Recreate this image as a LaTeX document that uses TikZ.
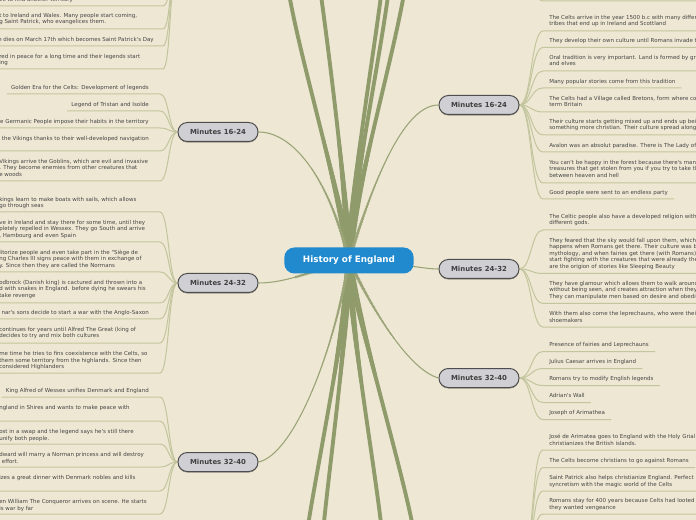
\documentclass[tikz,border=0pt]{standalone}
\usepackage{fontspec}
\newfontfamily\dvs{DejaVu Sans}
\usetikzlibrary{shadows,decorations.markings}
\pgfdeclarelayer{back}
\pgfdeclarelayer{lines}
\pgfsetlayers{back,lines,main}
\definecolor{bgc}{HTML}{EEE7D3}
\definecolor{heavyc}{HTML}{8F9B6B}
\definecolor{branchc}{HTML}{9AA477}
\definecolor{leafc}{HTML}{C2C59D}
\definecolor{txtc}{HTML}{454545}
\definecolor{bnfill}{HTML}{D0D0D4}
\definecolor{bnline}{HTML}{4D4D4D}
\definecolor{rootc}{HTML}{218ACE}
\begin{document}
\begin{tikzpicture}[x=0.75pt,y=-0.75pt,
 leaf/.style={font=\dvs\fontsize{4.125pt}{4.875pt}\selectfont, text=txtc, align=left, inner ysep=0pt},
 leafR/.style={leaf, anchor=base west, inner xsep=4.5pt},
 leafL/.style={leaf, anchor=base west, inner xsep=3pt},
 leafE/.style={leaf, anchor=base east, inner xsep=3pt},
 branchbox/.style={draw=bnline, line width=0.75pt, fill=bnfill, rounded corners=7pt,
   minimum width=60pt, minimum height=14.25pt, inner sep=0pt,
   font=\dvs\bfseries\fontsize{5.2pt}{6pt}\selectfont, text=black!75,
   drop shadow={shadow xshift=0pt, shadow yshift=-0.8pt, opacity=0.35, fill=black}},
 rootbox/.style={fill=rootc, rounded corners=7.5pt, minimum width=97pt, minimum height=19.5pt,
   inner sep=0pt, font=\dvs\bfseries\fontsize{6.6pt}{8pt}\selectfont, text=white},
 heavyline/.style={draw=heavyc, line width=2.9pt, line cap=round,
   postaction={decorate, decoration={markings,
     mark=between positions 0 and 0.45 step 1.5pt with {%
       \pgfmathsetmacro\rr{max(1.45,2.9-0.016*\pgfkeysvalueof{/pgf/decoration/mark info/distance from start})}%
       \fill[heavyc] (0,0) circle (\rr pt);}}}},
 branchline/.style={draw=branchc, line width=0.8pt,
   postaction={decorate, decoration={markings,
     mark=between positions 0 and 0.6 step 1.2pt with {%
       \pgfmathsetmacro\rr{max(0.4,1.6-0.014*\pgfkeysvalueof{/pgf/decoration/mark info/distance from start})}%
       \fill[branchc] (0,0) circle (\rr pt);}}}},
 leafline/.style={draw=leafc, line width=0.75pt},
]
\useasboundingbox (0,0) rectangle (696,520);
\begin{pgfonlayer}{back}
\fill[bgc] (0,0) rectangle (696,520);
\end{pgfonlayer}

% root and branches
\node[rootbox] (root) at (349,260.5) {History of England};
\node[branchbox] (bL1) at (218,132) {Minutes 16-24};
\node[branchbox] (bL2) at (218,283) {Minutes 24-32};
\node[branchbox] (bL3) at (218,462) {Minutes 32-40};
\node[branchbox] (bR1) at (479,105) {Minutes 16-24};
\node[branchbox] (bR2) at (479,269) {Minutes 24-32};
\node[branchbox] (bR3) at (479,378) {Minutes 32-40};

% off-picture branches
\coordinate (bK) at (178,-40);
\coordinate (bU) at (521,575);
\coordinate (bT) at (521,-45);
\coordinate (t1) at (288,-12);
\coordinate (t2) at (320,-12);
\coordinate (t3) at (382,-12);
\coordinate (t4) at (389,-12);
\coordinate (t5) at (405,-12);
\coordinate (d1) at (307,532);
\coordinate (d2) at (323,532);
\coordinate (d3) at (382,532);
\coordinate (d4) at (414,532);

% ---------- right leaves, group 16-24 (y = baseline of last line)
\node[leafR] (R1) at (543,26) {The Celts arrive in the year 1500 b.c with many different\\tribes that end up in Ireland and Scottland};
\node[leafR] (R2) at (543,42.5) {They develop their own culture until Romans invade them};
\node[leafR] (R3) at (543,66) {Oral tradition is very important. Land is formed by green hills\\and elves};
\node[leafR] (R4) at (543,83.5) {Many popular stories come from this tradition};
\node[leafR] (R5) at (543,107) {The Celts had a Village called Bretons, form where comes the\\term Britain};
\node[leafR] (R6) at (543,130) {Their culture starts getting mixed up and ends up being\\something more christian. Their culture spread along Europe};
\node[leafR] (R7) at (543,147.5) {Avalon was an absolut paradise. There is The Lady of the Lake};
\node[leafR] (R8) at (543,177.5) {You can't be happy in the forest because there's many\\treasures that get stolen from you if you try to take them\\between heaven and hell};
\node[leafR] (R9) at (543,194.5) {Good people were sent to an endless party};
% group 24-32
\node[leafR] (S1) at (543,225) {The Celtic people also have a developed religion with many\\different gods.};
\node[leafR] (S2) at (543,268.5) {They feared that the sky would fall upon them, which\\happens when Romans get there. Their culture was based on\\mythology, and when fairies get there (with Romans) they\\start fighting with the creatures that were already there. They\\are the origion of stories like Sleeping Beauty};
\node[leafR] (S3) at (543,298.5) {They have glamour which allows them to walk around\\without being seen, and creates attraction when they want.\\They can manipulate men based on desire and obedience};
\node[leafR] (S4) at (543,322) {With them also come the leprechauns, who were their\\shoemakers};
% group 32-40
\node[leafR] (T1) at (543,346.5) {Presence of fairies and Leprechauns};
\node[leafR] (T2) at (543,363.5) {Julius Caesar arrives in England};
\node[leafR] (T3) at (543,380.5) {Romans try to modify English legends};
\node[leafR] (T4) at (543,397.5) {Adrian's Wall};
\node[leafR] (T5) at (543,414.5) {Joseph of Arimathea};
% group below
\node[leafR] (U1) at (543,445) {José de Arimatea goes to England with the Holy Grial and\\christianizes the British islands.};
\node[leafR] (U2) at (543,462.5) {The Celts become christians to go against Romans};
\node[leafR] (U3) at (543,486) {Saint Patrick also helps christianize England. Perfect\\syncretism with the magic world of the Celts};
\node[leafR] (U4) at (543,509) {Romans stay for 400 years because Celts had looted\\they wanted vengeance};

% ---------- left leaves, group above
\node[leafL] (K1) at (-5,1.5) {ve to find another territory};
\node[leafL] (K2) at (-5,24) {t to Ireland and Wales. Many people start coming,\\g Saint Patrick, who evangelices them.};
\node[leafE] (K3) at (158,41.5) {e dies on March 17th which becomes Saint Patrick's Day};
\node[leafL] (K4) at (-5,65) {red in peace for a long time and their legends start\\ing};
% group 16-24
\node[leafE] (L1) at (153,89.5) {Golden Era for the Celts: Development of legends};
\node[leafE] (L2) at (153,106.5) {Legend of Tristan and Isolde};
\node[leafE] (L3) at (153,123.5) {e Germanic People impose their habits in the territory};
\node[leafE] (L4) at (153,140.5) {the Vikings thanks to their well-developed navigation};
\node[leafL] (L5) at (-5,176.5) {Vikings arrive the Goblins, which are evil and invasive\\. They become enemies from other creatures that\\e woods};
% group 24-32
\node[leafL] (M1) at (-5,208) {kings learn to make boats with sails, which allows\\go through seas};
\node[leafL] (M2) at (-5,237.5) {ve in Ireland and stay there for some time, until they\\pletely repelled in Wessex. They go South and arrive\\, Hambourg and even Spain};
\node[leafL] (M3) at (-5,267.5) {litorize people and even take part in the "Siège de\\ng Charles III signs peace with them in exchange of\\y. Since then they are called the Normans};
\node[leafL] (M4) at (-5,297.5) {odbrock (Danish king) is cactured and thrown into a\\d with snakes in England. before dying he swears his\\take revenge};
\node[leafE] (M5) at (153,314.5) {nar's sons decide to start a war with the Anglo-Saxon};
\node[leafL] (M6) at (-5,338) {continues for years until Alfred The Great (king of\\decides to try and mix both cultures};
\node[leafL] (M7) at (-5,368.5) {me time he tries to fins coexistence with the Celts, so\\them some territory from the highlands. Since then\\considered Highlanders};
% group 32-40
\node[leafE] (N1) at (153,392.5) {King Alfred of Wessex unifies Denmark and England};
\node[leafL] (N2) at (-5,409.5) {ngland in Shires and wants to make peace with};
\node[leafL] (N3) at (-5,440) {ost in a swap and the legend says he's still there\\unify both people.};
\node[leafL] (N4) at (-5,463) {dward will marry a Norman princess and will destroy\\\hspace*{2pt}effort.};
\node[leafL] (N5) at (-5,479.5) {izes a great dinner with Denmark nobles and kills};
\node[leafL] (N6) at (-5,510) {en William The Conqueror arrives on scene. He starts\\is war by far};

\begin{pgfonlayer}{lines}
% heavy connectors to branches outside the picture
\draw[heavyline] (root.center) .. controls (340,190) and (300,60) .. (t1);
\draw[heavyline] (root.center) .. controls (346,190) and (330,60) .. (t2);
\draw[heavyline] (root.center) .. controls (352,180) and (373,60) .. (t3);
\draw[heavyline] (root.center) .. controls (354,180) and (380,60) .. (t4);
\draw[heavyline] (root.center) .. controls (357,180) and (393,60) .. (t5);
\draw[heavyline] (root.center) .. controls (344,340) and (318,460) .. (d1);
\draw[heavyline] (root.center) .. controls (347,340) and (330,460) .. (d2);
\draw[heavyline] (root.center) .. controls (352,340) and (374,460) .. (d3);
\draw[heavyline] (root.center) .. controls (360,330) and (400,460) .. (d4);
% branches
\draw[branchline] (root.center) .. controls (328,175) and (292,132) .. (bL1.east);
\draw[branchline] (root.center) .. controls (375,175) and (405,105) .. (bR1.west);
\draw[branchline] (root.center) .. controls (310,272) and (285,283) .. (bL2.east);
\draw[branchline] (root.center) .. controls (400,262) and (420,269) .. (bR2.west);
\draw[branchline] (root.center) .. controls (332,360) and (292,455) .. (bL3.east);
\draw[branchline] (root.center) .. controls (375,315) and (410,370) .. (bR3.west);

% right leaf connectors
\foreach \n/\b/\y in {R1/bR1/31, R2/bR1/47.5, R3/bR1/71, R4/bR1/88, R5/bR1/112, R6/bR1/135, R7/bR1/152, R8/bR1/183, R9/bR1/199,
  S1/bR2/230, S2/bR2/273.5, S3/bR2/303.5, S4/bR2/327,
  T1/bR3/351.5, T2/bR3/368.5, T3/bR3/385.5, T4/bR3/402.5, T5/bR3/419.5,
  U1/bU/450, U2/bU/467.5, U3/bU/491, U4/bU/514}{
  \coordinate (\n u) at (543,\y);
  \draw[leafline] (\b.east) .. controls +(12,0) and +(-12,0) .. (\n u) -- (\n u -| \n.east);
}
\coordinate (topu) at (543,1);
\draw[leafline] (bT) .. controls +(12,0) and +(-12,0) .. (topu) -- ++(170,0);

% left leaf connectors
\foreach \n/\b/\y in {L1/bL1/94, L2/bL1/111, L3/bL1/128, L4/bL1/151, L5/bL1/181,
  M1/bL2/212, M2/bL2/242, M3/bL2/272, M4/bL2/303, M5/bL2/319, M6/bL2/343, M7/bL2/373,
  N1/bL3/397, N2/bL3/421, N3/bL3/444, N4/bL3/467, N5/bL3/491, N6/bL3/514}{
  \coordinate (\n u) at (160,\y);
  \draw[leafline] (\b.west) .. controls +(-9,0) and +(9,0) .. (\n u) -- (\n u -| \n.west);
}
\foreach \n/\y in {K1/6, K2/29, K3/46, K4/69}{
  \coordinate (\n u) at (163,\y);
  \draw[leafline] (bK) .. controls +(-8,0) and +(8,0) .. (\n u) -- (\n u -| \n.west);
}
\end{pgfonlayer}
\end{tikzpicture}
\end{document}
